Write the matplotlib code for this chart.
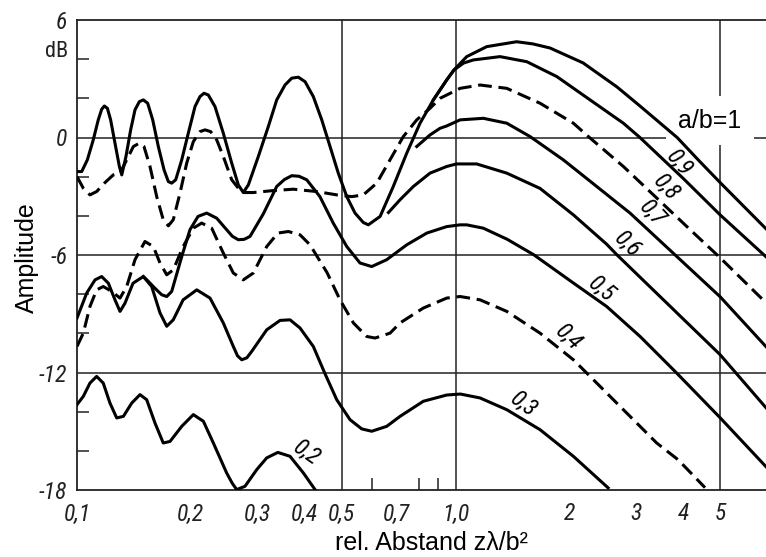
import matplotlib
matplotlib.use("Agg")
import matplotlib.pyplot as plt
from matplotlib import font_manager
from matplotlib.font_manager import FontProperties
from matplotlib.ticker import FixedLocator, NullFormatter

plt.rcParams['font.family'] = ['Liberation Sans', 'DejaVu Sans']

# pick a narrow face for the DIN-like tick numbers, if one is installed
_fonts = font_manager.fontManager.ttflist
_names = {f.name for f in _fonts}
_narrow = next((n for n in ['Liberation Sans Narrow', 'Roboto Condensed',
                            'Open Sans Condensed', 'Noto Sans Condensed'] if n in _names), None)
if _narrow:
    def num_font(size, italic=True):
        return FontProperties(family=_narrow, style='italic' if italic else 'normal', size=size)
elif any(f.name == 'DejaVu Sans' and f.stretch == 'condensed' for f in _fonts):
    def num_font(size, italic=True):
        return FontProperties(family='DejaVu Sans', stretch='condensed',
                              style='oblique' if italic else 'normal', size=size)
else:
    def num_font(size, italic=True):
        return FontProperties(family='DejaVu Sans', style='oblique' if italic else 'normal',
                              size=size * 0.9)

# --- values: x = z*lambda/b^2, y = amplitude in dB ---
ab10_x = [0.100, 0.1029, 0.1065, 0.1104, 0.1138, 0.1162, 0.1181, 0.1203, 0.1227, 0.1260,
          0.1294, 0.1313, 0.1347, 0.1386, 0.1423, 0.1461, 0.1497, 0.1537, 0.1585, 0.1640,
          0.1698, 0.1743, 0.1779, 0.1823, 0.1891, 0.1968, 0.2050, 0.2113, 0.2165, 0.2223,
          0.2315, 0.2435, 0.2563, 0.2668, 0.2750, 0.2836, 0.3013, 0.3202, 0.3370, 0.3544,
          0.3692, 0.3844, 0.4004, 0.4210, 0.4432, 0.4661, 0.4901, 0.5161, 0.5426, 0.5706,
          0.5883, 0.6321, 0.6848, 0.7432, 0.8058, 0.8738, 0.9478, 0.9908, 1.0705, 1.209,
          1.45, 1.60, 1.777, 2.172, 2.671, 3.07, 3.85, 4.4, 5.0, 6.61]
ab10_db = [-1.74, -1.74, -1.14, -0.12, 0.90, 1.44, 1.61, 1.49, 0.90, -0.29,
           -1.48, -1.91, -0.97, 0.39, 1.41, 1.83, 1.92, 1.75, 0.90, -0.46,
           -1.65, -2.25, -2.33, -2.16, -1.14, 0.22, 1.58, 2.09, 2.26, 2.17,
           1.58, 0.22, -1.31, -2.42, -2.81, -2.42, -0.97, 0.56, 1.92, 2.68,
           3.03, 3.08, 2.85, 2.09, 0.90, -0.46, -1.82, -3.02, -3.86, -4.34,
           -4.46, -4.03, -2.50, -0.80, 0.73, 1.92, 2.94, 3.45, 4.13, 4.64,
           4.89, 4.78, 4.57, 3.81, 2.58, 1.61, 0.0, -1.19, -2.3, -4.66]

ab09_x = [0.8738, 0.9478, 0.9908, 1.05, 1.114, 1.311, 1.543, 1.852, 2.267, 2.776,
          3.07, 4.0, 5.0, 6.61]
ab09_db = [1.92, 2.94, 3.45, 3.80, 3.96, 4.13, 3.87, 3.11, 1.92, 0.73,
           0.0, -2.1, -3.95, -6.09]

ab08_x = [0.100, 0.1039, 0.1082, 0.1127, 0.1186, 0.1247, 0.1299, 0.1353, 0.1409, 0.1461,
          0.1503, 0.1559, 0.1624, 0.1690, 0.1743, 0.1796, 0.1871, 0.1949, 0.2029, 0.2113,
          0.2179, 0.2255, 0.2339, 0.2435, 0.2563, 0.2724, 0.2923, 0.3302, 0.3728, 0.4299,
          0.4855, 0.5317, 0.5706, 0.6193, 0.6714, 0.7280, 0.7898, 0.8561, 0.910, 1.028,
          1.161, 1.366, 1.672, 2.048, 2.243, 2.776, 3.5, 4.2, 5.0, 6.61]
ab08_db = [-2.0, -2.59, -2.93, -2.76, -2.30, -1.91, -1.82, -1.14, -0.46, -0.29,
           -0.46, -1.48, -3.02, -4.20, -4.51, -4.20, -2.84, -1.31, -0.21, 0.30,
           0.39, 0.30, -0.12, -0.97, -2.16, -2.81, -2.81, -2.71, -2.64, -2.76,
           -2.93, -3.02, -2.93, -2.33, -1.14, 0.05, 0.90, 1.49, 2.0, 2.51,
           2.68, 2.51, 1.75, 0.73, 0.05, -1.48, -3.32, -4.77, -6.14, -8.44]

ab07_x = [0.7898, 0.8561, 0.910, 0.9478, 1.028, 1.184, 1.366, 1.573, 1.926, 2.36,
          2.891, 5.0, 6.61]
ab07_db = [-0.46, 0.13, 0.47, 0.59, 0.90, 0.98, 0.73, 0.05, -1.14, -2.50,
           -3.86, -8.13, -10.68]

ab06_x = [0.6650, 0.7135, 0.7739, 0.8561, 0.9478, 1.006, 1.137, 1.366, 1.672, 2.048,
          2.508, 2.669, 5.0, 6.61]
ab06_db = [-3.83, -3.18, -2.50, -1.82, -1.48, -1.35, -1.35, -1.82, -2.6, -3.95,
           -5.45, -5.99, -11.09, -13.80]

ab05_x = [0.1497, 0.1535, 0.1607, 0.1674, 0.1726, 0.1779, 0.1891, 0.1988, 0.2088, 0.2201,
          0.2339, 0.2485, 0.2575, 0.2668, 0.2765, 0.2865, 0.3106, 0.337, 0.353, 0.3692,
          0.386, 0.4045, 0.4383, 0.4752, 0.5161, 0.5594, 0.6005, 0.6579, 0.7432, 0.8397,
          0.9478, 1.028, 1.0705, 1.184, 1.37, 1.61, 2.048, 2.508, 3.073, 3.84, 5.0, 6.61]
ab05_db = [-7.10, -7.30, -7.70, -8.03, -8.12, -7.86, -6.08, -4.71, -4.03, -3.86,
           -4.12, -4.71, -5.05, -5.22, -5.20, -5.05, -3.9, -2.5, -2.15, -1.95,
           -1.98, -2.16, -3.02, -4.37, -5.57, -6.41, -6.59, -6.24, -5.48, -4.88,
           -4.55, -4.46, -4.46, -4.63, -5.2, -5.99, -7.43, -8.63, -10.16, -12.03, -14.31, -16.81]

ab04_x = [0.100, 0.1039, 0.1082, 0.1127, 0.1173, 0.1235, 0.1299, 0.1353, 0.1423, 0.1512,
          0.1591, 0.1657, 0.1726, 0.1796, 0.1907, 0.2029, 0.2135, 0.2269, 0.2435, 0.2588,
          0.2750, 0.2923, 0.3171, 0.3393, 0.3617, 0.3884, 0.4126, 0.4577, 0.4953, 0.5373,
          0.5826, 0.6130, 0.6714, 0.7135, 0.8219, 0.9478, 1.028, 1.161, 1.366, 1.672,
          2.048, 2.222, 2.776, 3.40, 3.87, 4.562]
ab04_db = [-10.67, -9.99, -8.63, -7.78, -7.61, -7.86, -8.20, -7.61, -6.24, -5.31,
           -5.57, -6.41, -7.01, -6.76, -5.57, -4.63, -4.37, -4.63, -5.90, -6.92,
           -7.27, -6.92, -5.57, -4.88, -4.80, -4.97, -5.48, -6.9, -8.29, -9.47,
           -10.16, -10.24, -9.99, -9.47, -8.71, -8.20, -8.12, -8.29, -8.88, -9.99,
           -11.35, -12.03, -13.90, -15.60, -16.45, -17.88]

ab03_x = [0.100, 0.1061, 0.1116, 0.1162, 0.1210, 0.1260, 0.1299, 0.1339, 0.1406, 0.1497,
          0.1575, 0.1657, 0.1726, 0.1796, 0.1907, 0.2072, 0.2246, 0.2435, 0.2588, 0.2655,
          0.2724, 0.281, 0.2895, 0.3171, 0.3439, 0.3654, 0.3884, 0.4210, 0.452, 0.4855,
          0.5264, 0.5652, 0.6005, 0.6579, 0.7135, 0.8219, 0.9478, 1.03, 1.161, 1.366,
          1.672, 2.048, 2.53]
ab03_db = [-9.22, -7.94, -7.27, -7.10, -7.44, -8.29, -8.88, -8.46, -7.44, -7.10,
           -7.61, -8.96, -9.64, -9.31, -8.29, -7.78, -8.20, -9.47, -10.67, -11.15,
           -11.35, -11.25, -10.92, -9.82, -9.34, -9.31, -9.73, -10.67, -12.06, -13.39,
           -14.41, -14.88, -15.0, -14.75, -14.24, -13.47, -13.15, -13.1, -13.30, -13.90,
           -14.92, -16.28, -17.89]

ab02_x = [0.100, 0.1039, 0.1082, 0.1127, 0.1173, 0.1222, 0.1273, 0.1326, 0.1395, 0.1467,
          0.1528, 0.1607, 0.1690, 0.1761, 0.1891, 0.2029, 0.2157, 0.2292, 0.2485, 0.257,
          0.2642, 0.2779, 0.2984, 0.3171, 0.3393, 0.3654, 0.3963, 0.4255]
ab02_db = [-13.64, -13.22, -12.54, -12.20, -12.54, -13.56, -14.32, -14.24, -13.56, -13.13,
           -13.39, -14.58, -15.60, -15.52, -14.75, -14.15, -14.49, -15.60, -17.13, -17.65,
           -17.98, -17.81, -16.96, -16.36, -16.08, -16.28, -17.13, -17.98]

# curve labels (text, x, dB, rotation)
curve_labels = [("0,9", 3.90, -1.30, -50), ("0,8", 3.60, -2.59, -48),
                ("0,7", 3.30, -3.86, -47), ("0,6", 2.85, -5.48, -44),
                ("0,5", 2.43, -7.78, -40), ("0,4", 1.99, -10.24, -44),
                ("0,3", 1.51, -13.64, -37), ("0,2", 0.405, -16.1, -35)]

xtick_pos = [0.1, 0.2, 0.3, 0.4, 0.5, 0.7, 1.0, 2, 3, 4, 5]
xtick_lab = ["0,1", "0,2", "0,3", "0,4", "0,5", "0,7", "1,0", "2", "3", "4", "5"]
x_minor = [0.2, 0.3, 0.4, 0.6, 0.7, 0.8, 0.9, 2, 3, 4]
ytick_pos = [6, 0, -6, -12, -18]
ytick_lab = ["6", "0", "-6", "-12", "-18"]
y_minor = [4, 2, -2, -4, -8, -10, -14, -16]
grid_x = [0.5, 1.0, 5.0]
grid_y = [0, -6, -12]

fig = plt.figure(figsize=(7.66, 5.57), dpi=100)
ax = fig.add_axes([77 / 766, 67 / 557, 689 / 766, 470 / 557])
ax.set_xscale('log')
ax.set_xlim(0.1, 6.61)
ax.set_ylim(-18, 6)

for gx in grid_x:
    ax.axvline(gx, color='#222222', lw=1.1, zorder=1)
for gy in grid_y:
    ax.axhline(gy, color='#222222', lw=1.1, zorder=1)

curves = [(ab10_x, ab10_db, '-'), (ab09_x, ab09_db, '-'), (ab08_x, ab08_db, '--'),
          (ab07_x, ab07_db, '-'), (ab06_x, ab06_db, '-'), (ab05_x, ab05_db, '-'),
          (ab04_x, ab04_db, '--'), (ab03_x, ab03_db, '-'), (ab02_x, ab02_db, '-')]
for cx, cy, ls in curves:
    style = (0, (4.5, 2.2)) if ls == '--' else '-'
    ax.plot(cx, cy, color='black', lw=2.2, linestyle=style, zorder=3,
            solid_joinstyle='round', dash_joinstyle='round', dash_capstyle='butt')

for txt, lx, ly, rot in curve_labels:
    ax.text(lx, ly, txt, fontproperties=num_font(17), rotation=rot,
            ha='center', va='center', rotation_mode='anchor', zorder=4)

ax.text(4.70, 0.85, "a/b=1", fontsize=18, ha='center', va='center', zorder=2,
        bbox=dict(facecolor='white', edgecolor='none', pad=9))

ax.text(-0.013, 4.39, "dB", transform=ax.get_yaxis_transform(),
        fontproperties=num_font(16, italic=False), ha='right', va='center', color='#222222')

ax.xaxis.set_major_locator(FixedLocator(xtick_pos))
ax.set_xticklabels(xtick_lab)
ax.xaxis.set_minor_locator(FixedLocator(x_minor))
ax.xaxis.set_minor_formatter(NullFormatter())
ax.yaxis.set_major_locator(FixedLocator(ytick_pos))
ax.set_yticklabels(ytick_lab)
ax.yaxis.set_minor_locator(FixedLocator(y_minor))
ax.yaxis.set_minor_formatter(NullFormatter())

ax.tick_params(axis='x', which='major', length=0, pad=9)
ax.tick_params(axis='y', which='major', length=0, pad=7)
ax.tick_params(which='minor', direction='in', length=8.5, width=1.1, color='#222222')
for lab in ax.get_xticklabels() + ax.get_yticklabels():
    lab.set_fontproperties(num_font(17))
    lab.set_color('#222222')

ax.spines['right'].set_visible(False)
for side in ['left', 'top', 'bottom']:
    ax.spines[side].set_linewidth(1.3)
    ax.spines[side].set_color('#222222')

ax.set_xlabel("rel. Abstand z\u03bb/b\u00b2", fontsize=18, va='center')
ax.xaxis.set_label_coords(0.514, -0.113)
ax.set_ylabel("Amplitude", fontsize=18, va='center')
ax.yaxis.set_label_coords(-0.072, 0.494)

fig.savefig("out.png", dpi=100)
